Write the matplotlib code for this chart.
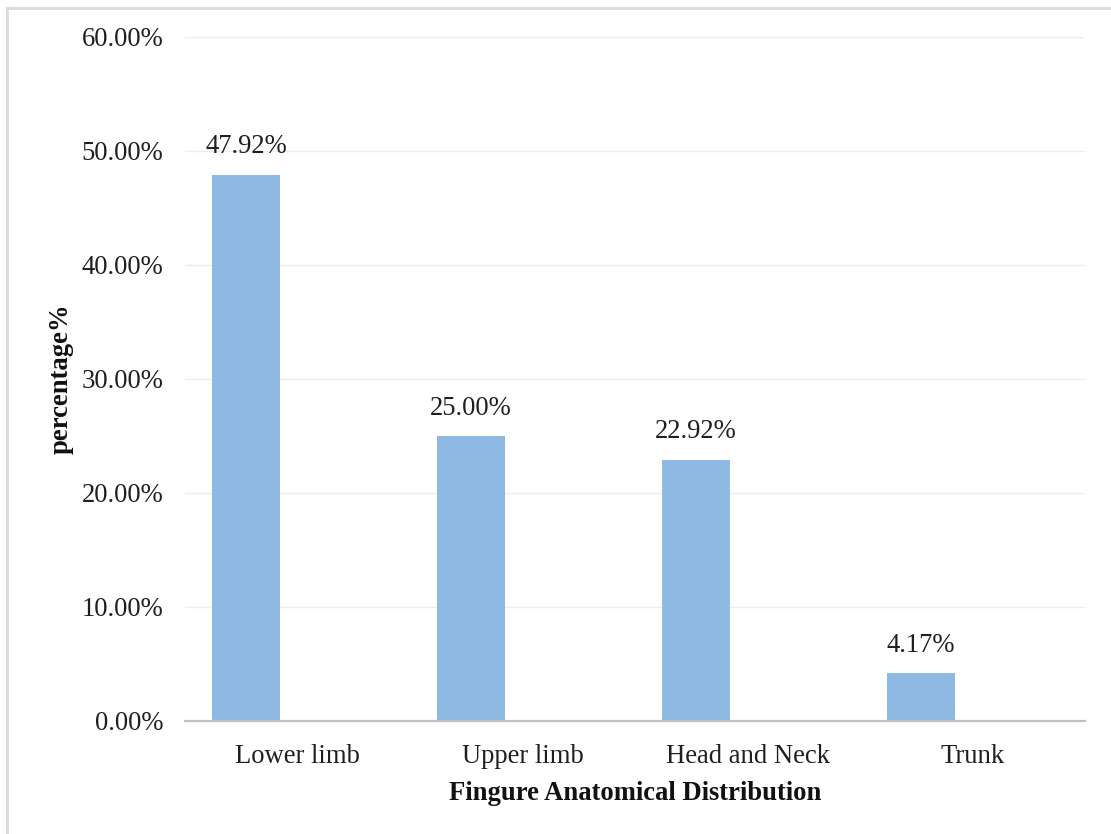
import matplotlib
matplotlib.use("Agg")
import matplotlib.pyplot as plt
from matplotlib.lines import Line2D
import numpy as np

plt.rcParams['font.family'] = ['Liberation Serif', 'DejaVu Serif']

# data
categories = ['Lower limb', 'Upper limb', 'Head and Neck', 'Trunk']
values = [47.92, 25.00, 22.92, 4.17]
yticks = [0, 10, 20, 30, 40, 50, 60]

fs = 19.2

fig = plt.figure(figsize=(11.11, 8.34), dpi=100)
ax = fig.add_axes([185/1111, 1-721/834, 900/1111, 684/834])

x = np.arange(len(categories))
barw = 0.302
offset = -0.229
bars = ax.bar(x + offset, values, width=barw, color='#8DB9E2', zorder=3)

for b, v in zip(bars, values):
    ax.annotate('%.2f%%' % v, (b.get_x() + b.get_width()/2, v),
                xytext=(0, 11), textcoords='offset points',
                ha='center', va='bottom', fontsize=fs, color='#1f1f1f')

ax.set_xlim(-0.5, 3.5)
ax.set_ylim(0, 60)
ax.set_yticks(yticks)
ax.set_yticklabels(['%.2f%%' % t for t in yticks])
ax.set_xticks(x)
ax.set_xticklabels(categories)
ax.tick_params(axis='both', length=0, labelsize=fs, colors='#1f1f1f')
ax.tick_params(axis='y', pad=15.5)
ax.tick_params(axis='x', pad=16.5)
ax.grid(axis='y', color='#EDEDED', linewidth=1, zorder=0)
for s in ['left', 'right', 'top']:
    ax.spines[s].set_visible(False)
ax.spines['bottom'].set_color('#BFBFBF')
ax.spines['bottom'].set_linewidth(1.6)
ax.spines['bottom'].set_zorder(4)

ax.set_xlabel('Fingure Anatomical Distribution', fontsize=fs,
              fontweight='bold', labelpad=9, color='#111111')
ax.set_ylabel('percentage%', fontsize=fs, fontweight='bold', labelpad=6,
              color='#111111')

# outer frame lines (top and left only)
fig.add_artist(Line2D([7/1111, 1], [1-8/834, 1-8/834], color='#D9D9D9', lw=2,
                      transform=fig.transFigure))
fig.add_artist(Line2D([7/1111, 7/1111], [0, 1-8/834], color='#D9D9D9', lw=2,
                      transform=fig.transFigure))

fig.savefig('out.png', dpi=100)
